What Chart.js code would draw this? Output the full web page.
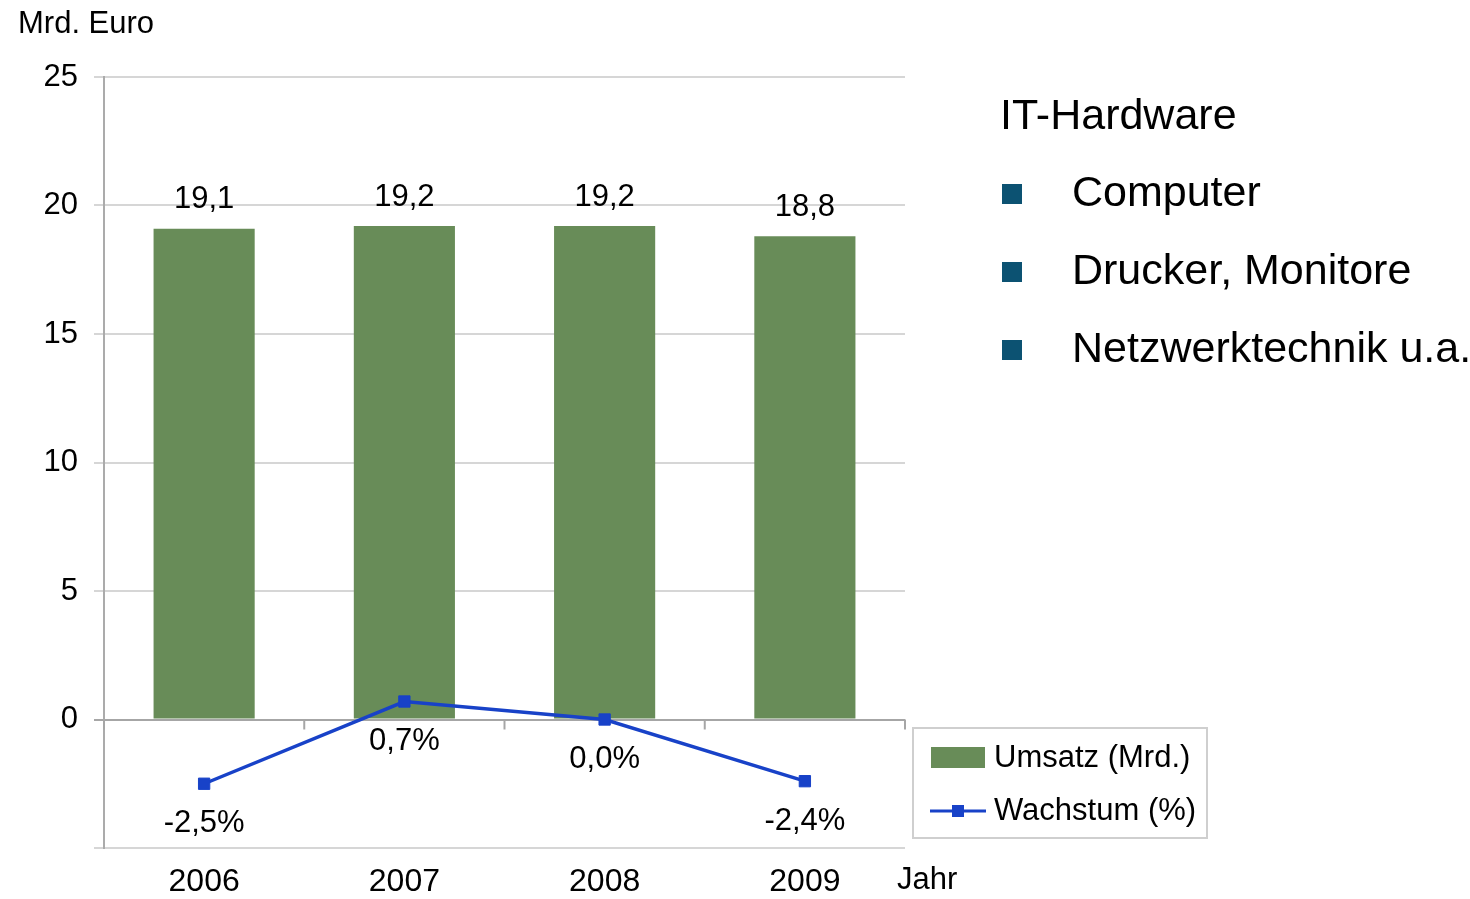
<!DOCTYPE html>
<html>
<head>
<meta charset="utf-8">
<script src="https://cdn.jsdelivr.net/npm/chart.js@4.4.1/dist/chart.umd.min.js"></script>
<style>
body { margin: 0; background: #fff; font-family: "Liberation Sans", Arial, sans-serif; }
#wrap { position: relative; width: 1470px; height: 899px; }
canvas { position: absolute; left: 0; top: 0; }
.txt { position: absolute; color: #000; white-space: nowrap; font-size: 43px; line-height: 43px; }
.sq { position: absolute; left: 1002px; width: 20px; height: 20px; background: #0c5272; }
</style>
</head>
<body>
<div id="wrap">
  <canvas id="Chart1" width="1470" height="899"></canvas>
  <div class="txt" style="left:1000px;top:93px">IT-Hardware</div>
  <div class="sq" style="top:184px"></div>
  <div class="txt" style="left:1072px;top:170px">Computer</div>
  <div class="sq" style="top:262px"></div>
  <div class="txt" style="left:1072px;top:248px">Drucker, Monitore</div>
  <div class="sq" style="top:340px"></div>
  <div class="txt" style="left:1072px;top:326px">Netzwerktechnik u.a.</div>
</div>
<script>
const years = ['2006', '2007', '2008', '2009'];
const umsatz = [19.1, 19.2, 19.2, 18.8];
const wachstum = [-2.5, 0.7, 0.0, -2.4];
const yTicks = [-5, 0, 5, 10, 15, 20, 25];

const green = 'rgb(104, 140, 88)';
const blue = 'rgb(24, 66, 200)';
const font = '"Liberation Sans", Arial, sans-serif';

const fmt = v => v.toFixed(1).replace('.', ',');

// value labels, zero-line ticks, axis captions and the legend box
const extras = {
    id: 'extras',
    beforeDatasetsDraw(chart) {
        const ctx = chart.ctx;
        const x = chart.scales.x;
        const y0 = chart.scales.y.getPixelForValue(0);
        ctx.save();
        ctx.strokeStyle = '#a6a6a6';
        ctx.lineWidth = 2;
        const ticks = [chart.chartArea.left];
        for (let i = 0; i < years.length - 1; i++) {
            ticks.push((x.getPixelForTick(i) + x.getPixelForTick(i + 1)) / 2);
        }
        ticks.push(chart.chartArea.right);
        ticks.forEach(px => {
            ctx.beginPath();
            ctx.moveTo(px, y0);
            ctx.lineTo(px, y0 + 10);
            ctx.stroke();
        });
        ctx.restore();
    },
    afterDatasetsDraw(chart) {
        const ctx = chart.ctx;
        ctx.save();
        ctx.font = '31px ' + font;
        ctx.fillStyle = '#000';
        ctx.textAlign = 'center';
        ctx.textBaseline = 'middle';
        chart.getDatasetMeta(1).data.forEach((bar, i) => {
            ctx.fillText(fmt(umsatz[i]), bar.x, bar.y - 29);
        });
        chart.getDatasetMeta(0).data.forEach((pt, i) => {
            ctx.fillText(fmt(wachstum[i]) + '%', pt.x, pt.y + 40);
        });

        ctx.textAlign = 'left';
        ctx.fillText('Mrd. Euro', 18, 24);
        ctx.fillText('Jahr', 897, 880);

        // legend
        ctx.strokeStyle = '#cfcfcf';
        ctx.lineWidth = 2;
        ctx.strokeRect(913, 728, 294, 110);
        ctx.fillStyle = green;
        ctx.fillRect(931, 747, 54, 21);
        ctx.strokeStyle = blue;
        ctx.lineWidth = 3;
        ctx.beginPath();
        ctx.moveTo(930, 811);
        ctx.lineTo(986, 811);
        ctx.stroke();
        ctx.fillStyle = blue;
        ctx.fillRect(952, 805, 12, 12);
        ctx.fillStyle = '#000';
        ctx.fillText('Umsatz (Mrd.)', 994, 758);
        ctx.fillText('Wachstum (%)', 994, 811);
        ctx.restore();
    }
};

const ctx1 = document.getElementById('Chart1').getContext('2d');

new Chart(ctx1, {
    type: 'bar',
    data: {
        labels: years,
        datasets: [{
            type: 'line',
            label: 'Wachstum (%)',
            data: wachstum,
            order: 0,
            borderColor: blue,
            backgroundColor: blue,
            borderWidth: 3.5,
            pointStyle: 'rect',
            pointRadius: 8,
            pointBorderWidth: 1,
            tension: 0
        }, {
            label: 'Umsatz (Mrd.)',
            data: umsatz,
            order: 1,
            backgroundColor: green,
            barPercentage: 0.505,
            categoryPercentage: 1
        }]
    },
    options: {
        responsive: false,
        animation: false,
        layout: { padding: { top: 77, right: 565, bottom: 0, left: 0 } },
        plugins: {
            legend: { display: false },
            tooltip: { enabled: false }
        },
        scales: {
            x: {
                grid: { display: false, drawTicks: false },
                border: { display: false },
                ticks: { color: '#000', font: { size: 32, family: font }, padding: 15 },
                afterFit: s => { s.height = 51; }
            },
            y: {
                min: -5,
                max: 25,
                afterBuildTicks: s => { s.ticks = yTicks.map(v => ({ value: v })); },
                grid: {
                    color: c => c.tick && c.tick.value === 0 ? '#a6a6a6' : '#d6d6d6',
                    lineWidth: 2,
                    tickLength: 10
                },
                border: { color: '#ababab', width: 2 },
                ticks: {
                    color: '#000',
                    font: { size: 31, family: font },
                    padding: 16,
                    callback: v => v < 0 ? '' : v
                },
                afterFit: s => { s.width = 104; }
            }
        }
    },
    plugins: [extras]
});
</script>
</body>
</html>
